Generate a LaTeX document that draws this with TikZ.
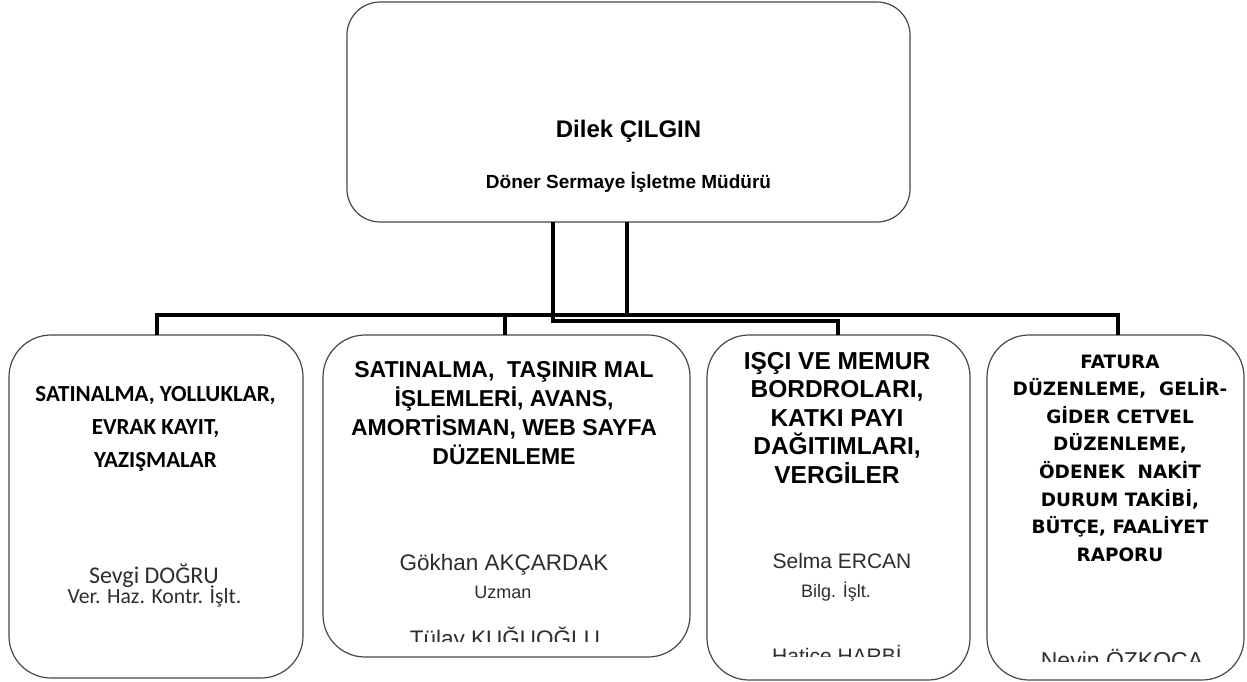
\documentclass[tikz,border=0pt]{standalone}
\usepackage{fontspec}
\newfontfamily\fArial{Liberation Sans}
\newfontfamily\fCal{Carlito}
\newfontfamily\fVer{DejaVu Sans}
\begin{document}
\begin{tikzpicture}[x=1pt,y=-1pt,
  box/.style={draw=black!72, line width=1.2pt, fill=white, rounded corners=42pt,
              inner sep=0pt, outer sep=0pt},
  topbox/.style={box, rounded corners=33pt},
  conn/.style={line width=4pt, black, line join=miter},
  tx/.style={anchor=base, inner sep=0pt, outer sep=0pt},
  calhead/.style={tx, font=\fCal\bfseries\fontsize{23}{23}\selectfont},
  arhead/.style={tx, font=\fArial\bfseries\fontsize{23}{23}\selectfont},
  arheadb/.style={tx, font=\fArial\bfseries\fontsize{24.5}{24.5}\selectfont},
  verhead/.style={tx, font=\fVer\bfseries\fontsize{18.4}{18.4}\selectfont},
  arname/.style={tx, text=black!82, font=\fArial\fontsize{22.5}{22.5}\selectfont},
  artitle/.style={tx, text=black!82, font=\fArial\fontsize{18}{18}\selectfont},
]
\useasboundingbox (0,0) rectangle (1247,682);
\fill[white] (0,0) rectangle (1247,682);

% manager box
\node[topbox, minimum width=563pt, minimum height=220pt] (top) at (628.5,112) {};
\node[tx, font=\fArial\bfseries\fontsize{24}{24}\selectfont] (topname) at (628.5,138) {Dilek ÇILGIN};
\node[tx, font=\fArial\bfseries\fontsize{19}{19}\selectfont] (toptitle) at (628.5,188) {Döner Sermaye İşletme Müdürü};

% unit boxes
\node[box, minimum width=294pt, minimum height=343pt] (b1) at (156,506.5) {};
\node[box, minimum width=367pt, minimum height=322pt] (b2) at (506.5,496) {};
\node[box, minimum width=263pt, minimum height=345pt] (b3) at (838.5,507.5) {};
\node[box, minimum width=257pt, minimum height=345pt] (b4) at (1115.5,507.5) {};

% connectors
\coordinate (busW) at (157,315);
\coordinate (busE) at (1118,315);
\coordinate (stub) at (505,315);
\coordinate (feedA) at (553,321);
\coordinate (feedB) at (627,315);
\coordinate (feedC) at (838,321);
\draw[conn] (busW |- b1.north) -- (busW) -- (busE) -- (busE |- b4.north);
\draw[conn] (stub) -- (stub |- b2.north);
\draw[conn] (top.south -| feedB) -- (feedB);
\draw[conn] (top.south -| feedA) -- (feedA) -- (feedC) -- (feedC |- b3.north);

% box 1
\foreach \s [count=\i] in {{SATINALMA, YOLLUKLAR,},{EVRAK KAYIT,},{YAZIŞMALAR}}
  \node[calhead] (b1h\i) at (155.5,{401.5+33*(\i-1)}) {\s};
\node[tx, text=black!82, font=\fCal\fontsize{24}{24}\selectfont] (b1n) at (154,583) {Sevgi DOĞRU};
\node[tx, text=black!82, font=\fCal\fontsize{21.7}{21.7}\selectfont] (b1t) at (154.5,603) {Ver. Haz. Kontr. İşlt.};

% box 2
\foreach \s [count=\i] in {{SATINALMA,~ TAŞINIR MAL},{İŞLEMLERİ, AVANS,},{AMORTİSMAN, WEB SAYFA},{DÜZENLEME}}
  \node[arhead] (b2h\i) at (504,{377+29*(\i-1)}) {\s};
\begin{scope}
  \clip (323,335) rectangle (690,641);
  \node[arname] (b2n) at (504,570) {Gökhan AKÇARDAK};
  \node[artitle] (b2t) at (503,598) {Uzman};
  \node[arname] (b2m) at (505,646) {Tülay KUĞUOĞLU};
\end{scope}

% box 3
\foreach \s [count=\i] in {{IŞÇI VE MEMUR},{BORDROLARI,},{KATKI PAYI},{DAĞITIMLARI,},{VERGİLER}}
  \node[arheadb] (b3h\i) at (837,{369+28.5*(\i-1)}) {\s};
\begin{scope}
  \clip (707,335) rectangle (970,656);
  \node[tx, text=black!82, font=\fArial\fontsize{21}{21}\selectfont] (b3n) at (842,568) {Selma ERCAN};
  \node[artitle] (b3t) at (836,597) {Bilg. İşlt.};
  \node[tx, text=black!82, font=\fArial\fontsize{21}{21}\selectfont] (b3m) at (837,663) {Hatice HARBİ};
\end{scope}

% box 4
\foreach \s [count=\i] in {{FATURA},{DÜZENLEME,~ GELİR-},{GİDER CETVEL},{DÜZENLEME,},{ÖDENEK~ NAKİT},{DURUM TAKİBİ,},{BÜTÇE, FAALİYET},{RAPORU}}
  \node[verhead] (b4h\i) at (1120,{368+27.6*(\i-1)}) {\s};
\begin{scope}
  \clip (987,335) rectangle (1244,661);
  \node[tx, text=black!82, font=\fArial\fontsize{23}{23}\selectfont] (b4n) at (1122,668) {Nevin ÖZKOCA};
\end{scope}
\end{tikzpicture}
\end{document}
